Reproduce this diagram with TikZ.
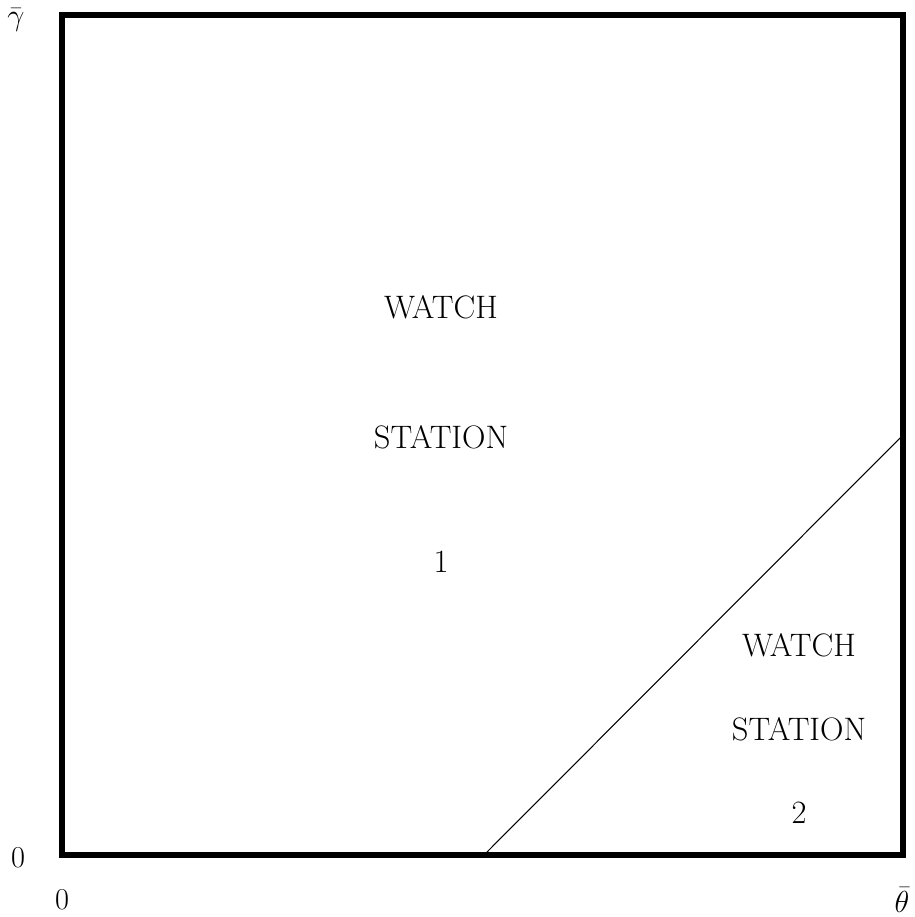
\documentclass[tikz,border=0pt]{standalone}
\usepackage{amsmath}
\usepackage{tikz}

\begin{document}
\begin{tikzpicture}[x=0.02cm, y=-0.02cm, every node/.style={font=\fontsize{18.5}{22}\selectfont, inner sep=0pt}]
    \useasboundingbox (0,0) rectangle (915,917);

    % Region box
    \draw[line width=3pt] (62,15) rectangle (903,855);
    \coordinate (lo) at (484,855);
    \coordinate (hi) at (903,435);

    % Switching line
    \draw[line width=0.6pt] (lo) -- (hi);

    % Axis labels
    \node (gam) at (16,20) {$\bar{\gamma}$};
    \node (yzero) at (18,858) {$0$};
    \node (xzero) at (62,900) {$0$};
    \node (the) at (902,900) {$\bar{\theta}$};

    % Regions
    \foreach \y/\t [count=\i] in {307/WATCH, 437/STATION, 562/1} {
        \node (one\i) at (441,\y) {\t};
    }
    \foreach \y/\t [count=\i] in {645/WATCH, 729/STATION, 813/2} {
        \node (two\i) at (799,\y) {\t};
    }
\end{tikzpicture}
\end{document}
